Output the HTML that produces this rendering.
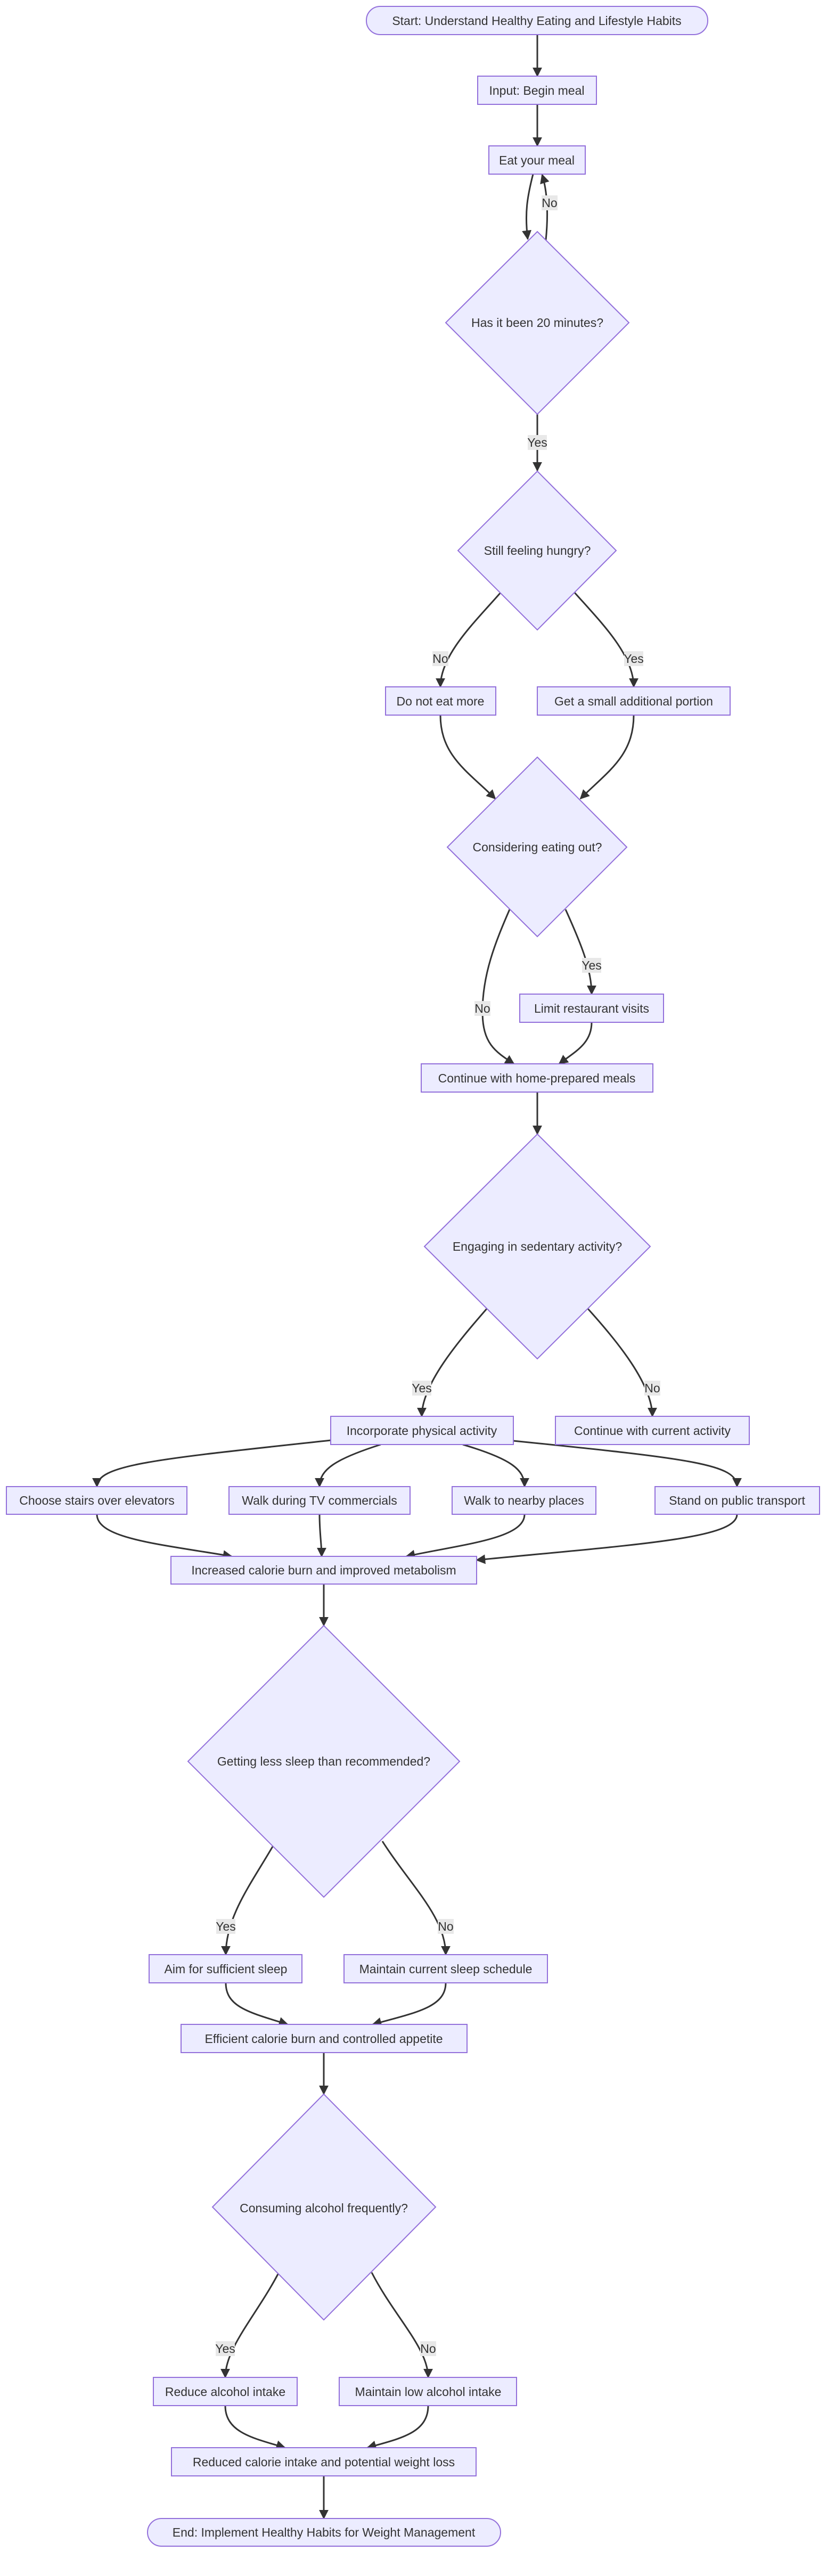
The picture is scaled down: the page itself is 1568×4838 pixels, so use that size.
<!DOCTYPE html>
<html><head><meta charset="utf-8"><style>
html,body{margin:0;padding:0;background:#fff;}
svg{display:block;}
text{font-family:"Liberation Sans",sans-serif;font-size:23px;fill:#333;text-anchor:middle;dominant-baseline:central;}
.n{fill:#ECECFF;stroke:#9370DB;stroke-width:2;}
.e{fill:none;stroke:#333;stroke-width:3;}
.lb{fill:#e8e8e8;}
</style></head><body>
<svg width="1568" height="4838" viewBox="0 0 1568 4838" xmlns="http://www.w3.org/2000/svg">
<defs><marker id="a" viewBox="0 0 10 10" markerWidth="6" markerHeight="6" refX="9" refY="5" orient="auto"><path d="M0,0 L10,5 L0,10 z" fill="#333"/></marker></defs>
<g marker-end="url(#a)">
<path class="e" d="M1009,65 L1009,143"/>
<path class="e" d="M1009,196 L1009,274"/>
<path class="e" d="M1001,327 C990,370 985,400 991,449"/>
<path class="e" d="M1025,451 C1030,400 1028,360 1018,328"/>
<path class="e" d="M1009,778 L1009,884"/>
<path class="e" d="M940,1113 C890,1170 827,1230 827,1290"/>
<path class="e" d="M1079,1113 C1130,1170 1190,1230 1190,1290"/>
<path class="e" d="M827,1343 C827,1420 880,1450 930,1500"/>
<path class="e" d="M1190,1343 C1190,1420 1140,1450 1090,1500"/>
<path class="e" d="M957,1708 C930,1770 906,1830 906,1900 C906,1960 930,1975 965,1998"/>
<path class="e" d="M1062,1708 C1090,1770 1111,1820 1111,1867"/>
<path class="e" d="M1111,1920 C1111,1960 1080,1975 1050,1998"/>
<path class="e" d="M1009,2051 L1009,2130"/>
<path class="e" d="M914,2458 C860,2520 792,2600 792,2660"/>
<path class="e" d="M1104,2458 C1160,2520 1225,2600 1225,2660"/>
<path class="e" d="M621,2705 C300,2740 182,2750 182,2792"/>
<path class="e" d="M715,2713 C630,2740 600,2760 600,2792"/>
<path class="e" d="M869,2713 C960,2740 985,2760 985,2792"/>
<path class="e" d="M964,2706 C1300,2740 1384,2750 1384,2792"/>
<path class="e" d="M182,2844 C182,2890 300,2900 435,2923"/>
<path class="e" d="M600,2844 C600,2880 604,2900 604,2923"/>
<path class="e" d="M985,2844 C985,2890 870,2900 763,2923"/>
<path class="e" d="M1384,2844 C1384,2890 1200,2900 895,2930"/>
<path class="e" d="M608,2975 L608,3053"/>
<path class="e" d="M512,3468 C470,3540 424,3600 424,3671"/>
<path class="e" d="M718,3458 C770,3540 837,3600 837,3671"/>
<path class="e" d="M424,3724 C424,3770 470,3780 540,3802"/>
<path class="e" d="M837,3724 C837,3770 780,3780 700,3802"/>
<path class="e" d="M608,3855 L608,3933"/>
<path class="e" d="M522,4271 C480,4350 423,4410 423,4465"/>
<path class="e" d="M698,4268 C740,4350 804,4410 804,4465"/>
<path class="e" d="M423,4518 C423,4570 480,4580 535,4597"/>
<path class="e" d="M804,4518 C804,4570 750,4580 690,4597"/>
<path class="e" d="M608,4650 L608,4730"/>
</g>
<!-- nodes -->
<rect class="n" x="688" y="12" width="641" height="53" rx="26"/><text x="1008" y="39">Start: Understand Healthy Eating and Lifestyle Habits</text>
<rect class="n" x="897" y="143" width="223" height="53"/><text x="1008" y="170">Input: Begin meal</text>
<rect class="n" x="918" y="274" width="181" height="53"/><text x="1008" y="301">Eat your meal</text>
<polygon class="n" points="1009,435 1181,606 1009,778 837,606"/><text x="1009" y="606">Has it been 20 minutes?</text>
<polygon class="n" points="1009,885 1157,1034 1009,1183 860,1034"/><text x="1009" y="1034">Still feeling hungry?</text>
<rect class="n" x="724" y="1290" width="207" height="53"/><text x="827" y="1317">Do not eat more</text>
<rect class="n" x="1009" y="1290" width="362" height="53"/><text x="1190" y="1317">Get a small additional portion</text>
<polygon class="n" points="1009,1422 1177,1591 1009,1759 840,1591"/><text x="1009" y="1591">Considering eating out?</text>
<rect class="n" x="976" y="1867" width="270" height="53"/><text x="1111" y="1894">Limit restaurant visits</text>
<rect class="n" x="791" y="1998" width="435" height="53"/><text x="1008" y="2025">Continue with home-prepared meals</text>
<polygon class="n" points="1009,2130 1221,2341 1009,2552 797,2341"/><text x="1009" y="2341">Engaging in sedentary activity?</text>
<rect class="n" x="621" y="2660" width="343" height="53"/><text x="792" y="2687">Incorporate physical activity</text>
<rect class="n" x="1043" y="2660" width="364" height="53"/><text x="1225" y="2687">Continue with current activity</text>
<rect class="n" x="12" y="2792" width="339" height="52"/><text x="182" y="2818">Choose stairs over elevators</text>
<rect class="n" x="430" y="2792" width="340" height="52"/><text x="600" y="2818">Walk during TV commercials</text>
<rect class="n" x="849" y="2792" width="270" height="52"/><text x="984" y="2818">Walk to nearby places</text>
<rect class="n" x="1230" y="2792" width="309" height="52"/><text x="1384" y="2818">Stand on public transport</text>
<rect class="n" x="321" y="2923" width="574" height="52"/><text x="608" y="2949">Increased calorie burn and improved metabolism</text>
<polygon class="n" points="608,3053 863,3308 608,3563 353,3308"/><text x="608" y="3308">Getting less sleep than recommended?</text>
<rect class="n" x="280" y="3671" width="287" height="53"/><text x="424" y="3698">Aim for sufficient sleep</text>
<rect class="n" x="646" y="3671" width="382" height="53"/><text x="837" y="3698">Maintain current sleep schedule</text>
<rect class="n" x="340" y="3802" width="537" height="53"/><text x="608" y="3829">Efficient calorie burn and controlled appetite</text>
<polygon class="n" points="608,3933 818,4145 608,4357 399,4145"/><text x="608" y="4147">Consuming alcohol frequently?</text>
<rect class="n" x="288" y="4465" width="270" height="53"/><text x="423" y="4492">Reduce alcohol intake</text>
<rect class="n" x="637" y="4465" width="333" height="53"/><text x="804" y="4492">Maintain low alcohol intake</text>
<rect class="n" x="322" y="4597" width="572" height="53"/><text x="608" y="4624">Reduced calorie intake and potential weight loss</text>
<rect class="n" x="277" y="4730" width="663" height="52" rx="26"/><text x="608" y="4756">End: Implement Healthy Habits for Weight Management</text>
<!-- edge labels -->
<rect class="lb" x="1017" y="367" width="30" height="28"/><text x="1032" y="381">No</text>
<rect class="lb" x="991" y="817" width="36" height="28"/><text x="1009" y="831">Yes</text>
<rect class="lb" x="812" y="1223" width="30" height="28"/><text x="827" y="1237">No</text>
<rect class="lb" x="1172" y="1223" width="36" height="28"/><text x="1190" y="1237">Yes</text>
<rect class="lb" x="891" y="1880" width="30" height="28"/><text x="906" y="1894">No</text>
<rect class="lb" x="1093" y="1799" width="36" height="28"/><text x="1111" y="1813">Yes</text>
<rect class="lb" x="774" y="2593" width="36" height="28"/><text x="792" y="2607">Yes</text>
<rect class="lb" x="1210" y="2593" width="30" height="28"/><text x="1225" y="2607">No</text>
<rect class="lb" x="406" y="3604" width="36" height="28"/><text x="424" y="3618">Yes</text>
<rect class="lb" x="822" y="3604" width="30" height="28"/><text x="837" y="3618">No</text>
<rect class="lb" x="405" y="4397" width="36" height="28"/><text x="423" y="4411">Yes</text>
<rect class="lb" x="789" y="4397" width="30" height="28"/><text x="804" y="4411">No</text>
</svg>
</body></html>
